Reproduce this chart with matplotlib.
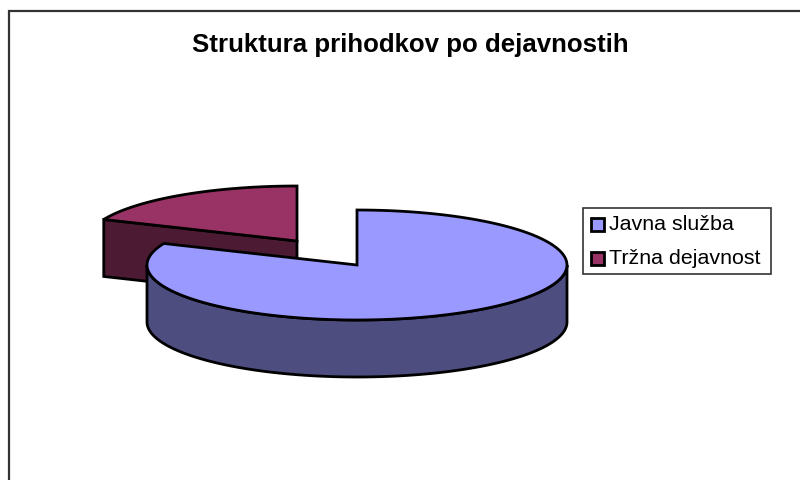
import numpy as np
import matplotlib; matplotlib.use('Agg'); import matplotlib.pyplot as plt
from matplotlib.patches import Polygon, Rectangle

plt.rcParams['font.family']=['Liberation Sans','DejaVu Sans']
title='Struktura prihodkov po dejavnostih'
labels=['Javna služba','Tržna dejavnost']
shares=[81.4,18.6]
top_cols=['#9999FF','#993366']
side_cols=['#4D4D80','#4D1A33']

cx,cy=357,265; rx,ry=210,55; depth=57
ex,ey=-60,-24   # explode offset of the small slice

def rim(a0,a1,ox=0,oy=0,n=120):
    # angles in degrees clockwise from 12 o'clock
    t=np.radians(np.linspace(a0,a1,n))
    return np.column_stack([cx+ox+rx*np.sin(t),cy+oy-ry*np.cos(t)])

fig=plt.figure(figsize=(8,4.8),dpi=100)
ax=fig.add_axes([0,0,1,1]);ax.set_xlim(0,800);ax.set_ylim(480,0);ax.axis('off')
ax.add_patch(Rectangle((9,11),900,600,fc='white',ec='#333333',lw=1.6,zorder=0))

split=shares[0]/sum(shares)*360
k=dict(ec='black',lw=2,joinstyle='miter')

# small exploded slice, behind
p0=rim(split,split,ex,ey,2)[0]; ap=np.array([cx+ex,cy+ey])
ax.add_patch(Polygon([p0,ap,ap+[0,depth],p0+[0,depth]],fc=side_cols[1],zorder=2,**k))
ax.add_patch(Polygon(np.vstack([[ap],rim(split,360,ex,ey)]),fc=top_cols[1],zorder=3,**k))

# big slice, front
r=rim(90,270)
ax.add_patch(Polygon(np.vstack([r,(r+[0,depth])[::-1]]),fc=side_cols[0],zorder=4,**k))
ax.add_patch(Polygon(np.vstack([[[cx,cy]],rim(0,split)]),fc=top_cols[0],zorder=5,**k))

ax.text(410,45,title,ha='center',va='center',fontsize=18.6,fontweight='bold',color='black')

# legend
ax.add_patch(Rectangle((583,207.5),188,66.5,fc='white',ec='#333333',lw=1.2,zorder=6))
for i,(lab,c) in enumerate(zip(labels,top_cols)):
    y=224.7+i*33.3
    ax.add_patch(Rectangle((590.5,y-6.5),13,13,fc=c,ec='black',lw=2,zorder=7))
    ax.text(609,y,lab,ha='left',va='center',fontsize=15.4,color='black',zorder=7)
fig.savefig('out.png',dpi=100)
